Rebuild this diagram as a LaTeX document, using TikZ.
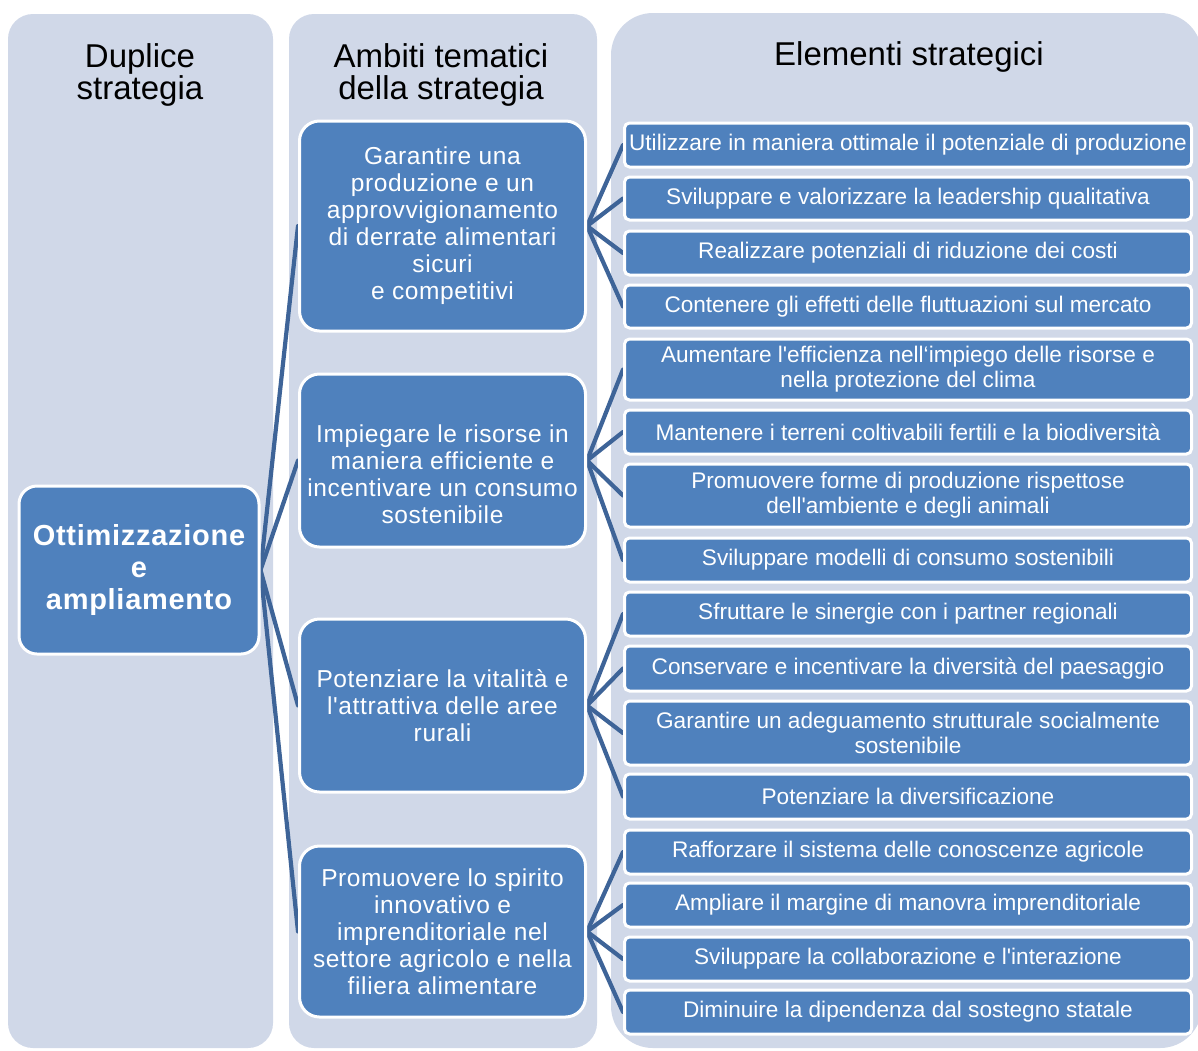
\documentclass[tikz,border=0pt]{standalone}
\usepackage{fontspec}
\setmainfont{Liberation Sans}[Ligatures=TeXOff]
\newfontfamily\midfont{Liberation Sans}[Ligatures=TeXOff,LetterSpace=2.5]
\usetikzlibrary{backgrounds}
\definecolor{bgcol}{RGB}{208,216,232}
\definecolor{boxcol}{RGB}{79,129,189}
\definecolor{linecol}{RGB}{62,100,152}
\begin{document}
\begin{tikzpicture}[x=1pt,y=-1pt,
  titletext/.style={text=black, align=center, inner sep=0pt, font=\fontsize{33}{32}\selectfont},
  mainbox/.style={draw=white, line width=3pt, fill=boxcol, rounded corners=18pt, text=white, align=center,
    minimum width=240pt, minimum height=168pt, inner sep=0pt, font=\midfont\bfseries\fontsize{29}{32}\selectfont},
  themebox/.style={draw=white, line width=3pt, fill=boxcol, rounded corners=20pt, text=white, align=center,
    minimum width=286pt, inner sep=0pt, font=\midfont\fontsize{24.5}{27}\selectfont},
  themetext/.style={text=white, align=center, inner sep=0pt, font=\midfont\fontsize{24.5}{27}\selectfont},
  elembox/.style={draw=white, line width=3pt, fill=boxcol, rounded corners=5pt, text=white, align=center,
    minimum width=567pt, inner sep=0pt, font=\fontsize{22.6}{25}\selectfont},
  conn/.style={draw=linecol, line width=4.2pt, line cap=round}
]
\useasboundingbox (0,0) rectangle (1198,1050);

% titles
\node[titletext] (t1) at (140,75) {Duplice\\strategia};
\node[titletext] (t2) at (441,75) {Ambiti tematici\\della strategia};
\node[titletext] (t3) at (909,57) {Elementi strategici};

% main box
\node[mainbox] (main) at (139,570) {Ottimizzazione\\e\\ampliamento};

% theme boxes
\node[themebox, minimum height=210pt] (b1) at (442.5,226) {Garantire una\\produzione e un\\approvvigionamento\\di derrate alimentari\\sicuri\\e competitivi};
\node[themebox, minimum height=173pt] (b2) at (442.5,460.5) {};
\node[themetext] (b2t) at (442.5,474) {Impiegare le risorse in\\maniera efficiente e\\incentivare un consumo\\sostenibile};
\node[themebox, minimum height=173pt] (b3) at (442.5,705.5) {Potenziare la vitalità e\\l'attrattiva delle aree\\rurali};
\node[themebox, minimum height=171pt] (b4) at (442.5,931.5) {Promuovere lo spirito\\innovativo e\\imprenditoriale nel\\settore agricolo e nella\\filiera alimentare};

% element boxes
\node[elembox, minimum height=44pt] (e1) at (908,145) {Utilizzare in maniera ottimale il potenziale di produzione};
\node[elembox, minimum height=43pt] (e2) at (908,198.5) {Sviluppare e valorizzare la leadership qualitativa};
\node[elembox, minimum height=44pt] (e3) at (908,253) {Realizzare potenziali di riduzione dei costi};
\node[elembox, minimum height=43pt] (e4) at (908,306.5) {Contenere gli effetti delle fluttuazioni sul mercato};
\node[elembox, minimum height=61pt] (e5) at (908,369.5) {Aumentare l'efficienza nell‘impiego delle risorse e\\nella protezione del clima};
\node[elembox, minimum height=44pt] (e6) at (908,432) {Mantenere i terreni coltivabili fertili e la biodiversità};
\node[elembox, minimum height=63pt] (e7) at (908,495.5) {Promuovere forme di produzione rispettose\\dell'ambiente e degli animali};
\node[elembox, minimum height=44pt] (e8) at (908,560) {Sviluppare modelli di consumo sostenibili};
\node[elembox, minimum height=44pt] (e9) at (908,614) {Sfruttare le sinergie con i partner regionali};
\node[elembox, minimum height=45pt] (e10) at (908,668.5) {Conservare e incentivare la diversità del paesaggio};
\node[elembox, minimum height=64pt] (e11) at (908,733) {Garantire un adeguamento strutturale socialmente\\sostenibile};
\node[elembox, minimum height=45pt] (e12) at (908,796.5) {Potenziare la diversificazione};
\node[elembox, minimum height=44pt] (e13) at (908,852) {Rafforzare il sistema delle conoscenze agricole};
\node[elembox, minimum height=44pt] (e14) at (908,905) {Ampliare il margine di manovra imprenditoriale};
\node[elembox, minimum height=44pt] (e15) at (908,959) {Sviluppare la collaborazione e l'interazione};
\node[elembox, minimum height=44pt] (e16) at (908,1012) {Diminuire la dipendenza dal sostegno statale};

\begin{pgfonlayer}{background}
  \begin{scope}
    \clip (0,0) rectangle (1198,1050);
    \fill[white] (0,0) rectangle (1198,1050);
    \fill[bgcol, rounded corners=25pt] (8,14) rectangle (273,1048);
    \fill[bgcol, rounded corners=25pt] (289,14) rectangle (597,1048);
    \fill[bgcol, rounded corners=42pt] (611,13) rectangle (1202,1048);
  \end{scope}
  \foreach \b in {b1,b2,b3,b4} \draw[conn] (main.east) -- (\b.west);
  \foreach \e in {e1,e2,e3,e4} \draw[conn] (b1.east) -- (\e.west);
  \foreach \e in {e5,e6,e7,e8} \draw[conn] (b2.east) -- (\e.west);
  \foreach \e in {e9,e10,e11,e12} \draw[conn] (b3.east) -- (\e.west);
  \foreach \e in {e13,e14,e15,e16} \draw[conn] (b4.east) -- (\e.west);
\end{pgfonlayer}
\end{tikzpicture}
\end{document}
